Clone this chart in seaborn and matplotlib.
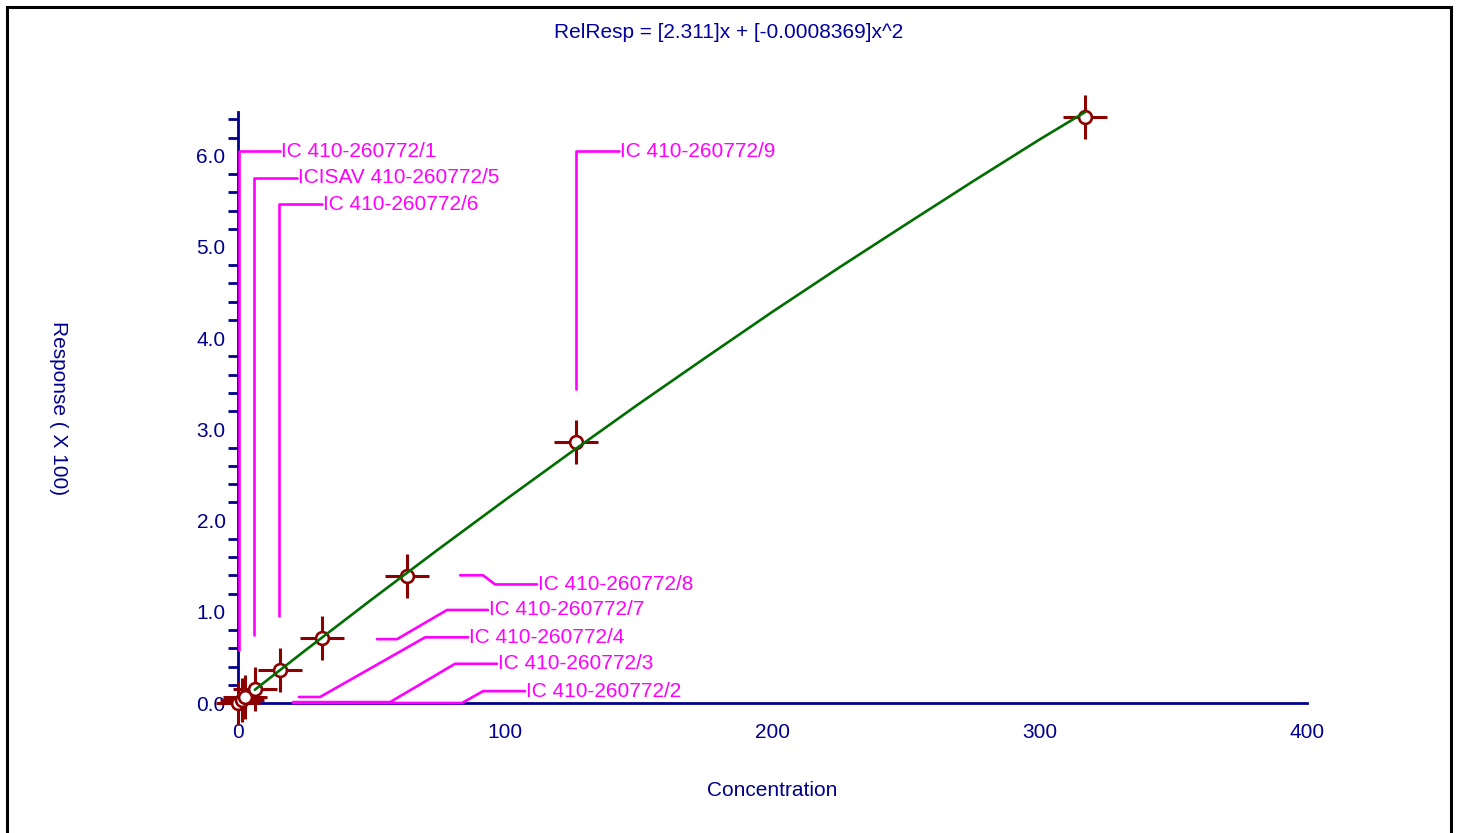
import numpy as np
import pandas as pd
import seaborn as sns
import matplotlib.pyplot as plt
from matplotlib.patches import Rectangle
from matplotlib.ticker import FixedLocator, FormatStrFormatter

# calibration points (concentration, relative response / 100)
conc = [0.1, 1.5, 2.8, 6.4, 15.8, 31.6, 63.3, 126.6, 316.9]
resp = [0.0, 0.035, 0.065, 0.15, 0.36, 0.71, 1.39, 2.86, 6.43]

# fitted curve
fit_x = [6.3, 25, 50, 75, 100, 125, 150, 175, 200, 225, 250, 275, 300, 317]
fit_y = [0.145, 0.573, 1.135, 1.686, 2.227, 2.758, 3.28, 3.788, 4.29, 4.776,
         5.25, 5.72, 6.18, 6.48]

title = "RelResp = [2.311]x + [-0.0008369]x^2"
x_ticks = [0, 100, 200, 300, 400]
y_ticks = [0.0, 1.0, 2.0, 3.0, 4.0, 5.0, 6.0]

# sample labels and their leader lines (data coords)
sample_labels = ["IC 410-260772/1", "IC 410-260772/2", "IC 410-260772/3",
                 "IC 410-260772/4", "ICISAV 410-260772/5", "IC 410-260772/6",
                 "IC 410-260772/7", "IC 410-260772/8", "IC 410-260772/9"]
leader_x = [[0.3, 0.3, 15.8], [20.6, 83.8, 91.7, 107.4], [20.6, 56.9, 81.2, 96.9],
            [22.8, 30.7, 70.0, 86.1], [6.0, 6.0, 22.1], [15.3, 15.3, 31.4],
            [52.0, 59.5, 78.2, 93.5], [83.1, 91.7, 96.2, 111.9],
            [126.5, 126.5, 142.6]]
leader_y = [[0.58, 6.05, 6.05], [0.0, 0.0, 0.13, 0.13], [0.01, 0.01, 0.43, 0.43],
            [0.066, 0.066, 0.72, 0.72], [0.75, 5.76, 5.76], [0.95, 5.47, 5.47],
            [0.70, 0.70, 1.02, 1.02], [1.40, 1.40, 1.30, 1.30],
            [3.44, 6.05, 6.05]]

navy = "#00008B"
dark_red = "#8B0000"
green = "#006E00"
magenta = "#FF00FF"

sns.set_style("white")
plt.rcParams['font.family'] = ['Liberation Sans', 'DejaVu Sans']

fig = plt.figure(figsize=(14.58, 8.33), dpi=100)
ax = fig.add_axes([0.12658, 0.10132, 0.80652, 0.82113])
ax.set_xlim(-20, 420)
ax.set_ylim(-0.5, 7.0)

df = pd.DataFrame({"conc": conc, "resp": resp})

# crosses, circles, then the fit line
sns.scatterplot(data=df, x="conc", y="resp", marker="+", s=31 ** 2,
                color=dark_red, linewidth=2.2, ax=ax, zorder=3, clip_on=False,
                legend=False)
sns.scatterplot(data=df, x="conc", y="resp", marker="o", s=85,
                facecolor="white", edgecolor=dark_red, linewidth=1.9, ax=ax,
                zorder=4, clip_on=False, legend=False)
sns.lineplot(x=fit_x, y=fit_y, color=green, linewidth=1.9, ax=ax, zorder=5)

for lbl, lx, ly in zip(sample_labels, leader_x, leader_y):
    ax.plot(lx, ly, color=magenta, linewidth=1.9, zorder=2, clip_on=False)
    ax.text(lx[-1] + 0.3, ly[-1], lbl, color=magenta, fontsize=15,
            ha="left", va="center")

# axes styling: spines cross at the origin
for side in ["top", "right"]:
    ax.spines[side].set_visible(False)
ax.spines["left"].set_position(("data", 0))
ax.spines["bottom"].set_position(("data", 0))
ax.spines["left"].set_bounds(0, 6.48)
ax.spines["bottom"].set_bounds(0, 400)
for side in ["left", "bottom"]:
    ax.spines[side].set_color(navy)
    ax.spines[side].set_linewidth(2)
    ax.spines[side].set_zorder(1)

ax.set_xticks(x_ticks)
ax.set_yticks(y_ticks)
ax.yaxis.set_major_formatter(FormatStrFormatter("%.1f"))
ax.yaxis.set_minor_locator(FixedLocator(np.arange(0, 6.5, 0.2)))
ax.tick_params(axis="x", direction="out", length=7.5, width=2, color=navy,
               labelcolor=navy, labelsize=15, pad=7)
ax.tick_params(axis="y", which="major", direction="out", length=9, width=2,
               color=navy, labelcolor=navy, labelsize=15, pad=0)
ax.tick_params(axis="y", which="minor", direction="out", length=7, width=2,
               color=navy, left=True)
ax.set_xlabel("")
ax.set_ylabel("")

fig.text(0.5, 1 - 33 / 833, title, ha="center", va="center",
         fontsize=15, color="#0000A0")
fig.text(772 / 1458, 1 - 791 / 833, "Concentration", ha="center",
         va="center", fontsize=15, color=navy)
fig.text(58 / 1458, 1 - 408 / 833, "Response ( X 100)", ha="center",
         va="center", rotation=-90, fontsize=15, color=navy)

fig.patches.append(Rectangle((7 / 1458, -0.05), 1444 / 1458, 1.05 - 7 / 833,
                             transform=fig.transFigure, fill=False,
                             edgecolor="black", linewidth=2.2))

fig.savefig("out.png", dpi=100)
